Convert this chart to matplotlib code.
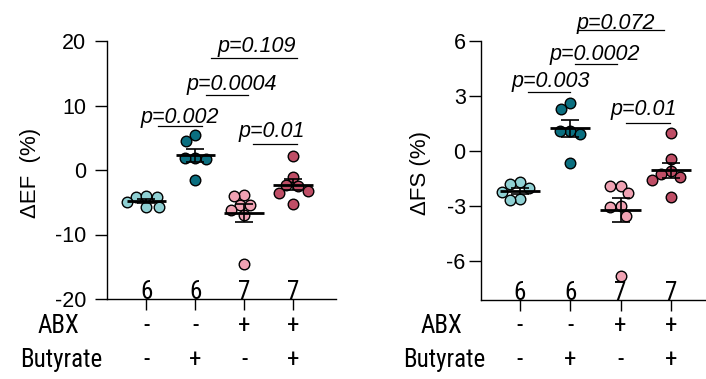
import numpy as np
import matplotlib
matplotlib.use("Agg")
import matplotlib.pyplot as plt
from matplotlib import font_manager as fm
from matplotlib.transforms import blended_transform_factory

plt.rcParams['font.family'] = ['Liberation Sans', 'DejaVu Sans']
plt.rcParams['axes.unicode_minus'] = False

# groups: ABX-/Bu-, ABX-/Bu+, ABX+/Bu-, ABX+/Bu+
abx = ['-', '-', '+', '+']
butyrate = ['-', '+', '-', '+']
colors = ['#8fd0d3', '#0b6f80', '#f0a2b3', '#bf4e66']

ef_values = [
    [-4.2, -4.2, -4.0, -5.0, -5.8, -5.8],
    [5.4, 4.5, 1.8, 1.7, 1.8, -1.5],
    [-3.9, -4.0, -5.4, -5.4, -6.2, -7.0, -14.6],
    [2.1, -1.1, -2.3, -3.2, -2.5, -3.5, -5.3],
]
fs_values = [
    [-1.7, -1.8, -2.0, -2.2, -2.6, -2.65],
    [2.6, 2.3, 1.1, 0.96, 1.1, -0.63],
    [-1.9, -1.9, -2.3, -3.0, -3.05, -3.5, -6.8],
    [1.0, -0.4, -1.1, -1.25, -1.4, -1.55, -2.5],
]
ef_pvals = ['p=0.002', 'p=0.0004', 'p=0.109', 'p=0.01']
fs_pvals = ['p=0.003', 'p=0.0002', 'p=0.072', 'p=0.01']

# bracket geometry: (x start, x end, line y, text x, text y)
ef_brackets = [(0.24, 1.14, 6.8, 0.68, 7.3),
               (1.22, 2.08, 11.7, 1.76, 12.4),
               (1.33, 3.08, 17.3, 2.27, 18.3),
               (2.18, 3.08, 4.1, 2.56, 5.1)]
fs_brackets = [(0.16, 0.99, 3.2, 0.62, 3.48),
               (1.09, 1.93, 4.75, 1.48, 4.95),
               (1.13, 2.86, 6.6, 1.91, 6.68),
               (2.11, 2.98, 1.53, 2.46, 1.96)]

FS = 15.5

# the row labels / counts in the reference are set in a condensed face
installed = {f.name for f in fm.fontManager.ttflist}
narrow_pick = [('Liberation Sans Narrow', 18.3), ('Arial Narrow', 18.3),
               ('Roboto Condensed', 18.0), ('PT Sans Narrow', 18.5),
               ('Archivo Narrow', 18.0), ('Pragati Narrow', 18.0),
               ('IBM Plex Sans Condensed', 18.0), ('Sofia Sans Condensed', 18.5)]
NARROW, FS_BIG = 'Liberation Sans', 15.8
for name, size in narrow_pick:
    if name in installed:
        NARROW, FS_BIG = name, size
        break


def swarm_x(ax, x0, vals, d=10.5):
    # greedy beeswarm in pixel space
    vals = np.asarray(vals, dtype=float)
    pts = ax.transData.transform(np.column_stack([np.full(len(vals), x0), vals]))
    ys = pts[:, 1]
    placed = []
    offs = np.zeros(len(vals))
    for i in np.argsort(-vals, kind='stable'):
        cands = [0.0]
        for px, py in placed:
            dy = abs(ys[i] - py)
            if dy < d:
                dx = np.sqrt(d * d - dy * dy)
                cands += [px - dx, px + dx]
        cands.sort(key=abs)
        for c in cands:
            if all((c - px) ** 2 + (ys[i] - py) ** 2 >= d * d - 1e-6 for px, py in placed):
                break
        placed.append((c, ys[i]))
        offs[i] = c
    back = ax.transData.inverted().transform(np.column_stack([pts[:, 0] + offs, ys]))
    return back[:, 0]


def panel(ax, xlim, values, pvals, brackets, ylim, yticks, ylabel, label_x, row_x, tick_pad):
    ax.set_xlim(*xlim)
    ax.set_ylim(*ylim)
    ax.spines['top'].set_visible(False)
    ax.spines['right'].set_visible(False)
    ax.spines['left'].set_linewidth(1.0)
    ax.spines['bottom'].set_linewidth(1.0)
    ax.spines['left'].set_bounds(ylim[0], yticks[-1])
    ax.set_yticks(yticks)
    ax.set_yticklabels([str(t) for t in yticks], fontsize=FS)
    ax.tick_params(axis='y', length=9, width=1.0, pad=tick_pad)
    ax.set_xticks(range(len(values)))
    ax.set_xticklabels([])
    ax.tick_params(axis='x', length=8, width=1.0)
    ax.set_ylabel(ylabel, fontsize=16, va='center')
    ax.yaxis.set_label_coords(label_x, 0.49)

    for i, vals in enumerate(values):
        xs = swarm_x(ax, i, vals)
        ax.scatter(xs, vals, s=58, c=colors[i], edgecolors='black',
                   linewidths=1.0, zorder=3, clip_on=False)
        m = np.mean(vals)
        sem = np.std(vals, ddof=1) / np.sqrt(len(vals))
        ax.hlines(m, i - 0.4, i + 0.4, color='black', lw=2.0, zorder=4)
        ax.errorbar(i, m, yerr=sem, fmt='none', ecolor='black', elinewidth=1.2,
                    capsize=6.5, capthick=1.2, zorder=4)
        ax.text(i, ylim[0], str(len(vals)), ha='center', va='baseline',
                fontsize=FS_BIG, family=NARROW)

    for lab, (x1, x2, y, tx, ty) in zip(pvals, brackets):
        ax.plot([x1, x2], [y, y], color='black', lw=0.9, clip_on=False)
        ax.text(tx, ty, lab, ha='center', va='baseline', fontsize=FS,
                style='italic', clip_on=False)

    tr = blended_transform_factory(ax.transData, ax.figure.transFigure)
    rows = [('ABX', abx, 1 - 333 / 379), ('Butyrate', butyrate, 1 - 367 / 379)]
    for (name, signs, yy), nx in zip(rows, row_x):
        ax.text(nx, yy, name, ha='center', va='baseline', fontsize=FS_BIG,
                family=NARROW, transform=tr)
        for i, s in enumerate(signs):
            ax.text(i, yy, s, ha='center', va='baseline', fontsize=FS_BIG,
                    family=NARROW, transform=tr)


fig = plt.figure(figsize=(7.06, 3.79), dpi=100)
ax1 = fig.add_axes([107 / 706, 1 - 299 / 379, 229 / 706, 258 / 379])
ax2 = fig.add_axes([481 / 706, 1 - 300 / 379, 225 / 706, 259 / 379])

panel(ax1, (-0.8, 3.88), ef_values, ef_pvals, ef_brackets, (-20, 20),
      [-20, -10, 0, 10, 20], 'ΔEF  (%)', -0.336, (-1.8, -1.73), 6)
panel(ax2, (-0.775, 3.70), fs_values, fs_pvals, fs_brackets, (-8.1, 6),
      [-6, -3, 0, 3, 6], 'ΔFS (%)', -0.271, (-1.57, -1.51), 2)

fig.savefig('out.png', dpi=100)
